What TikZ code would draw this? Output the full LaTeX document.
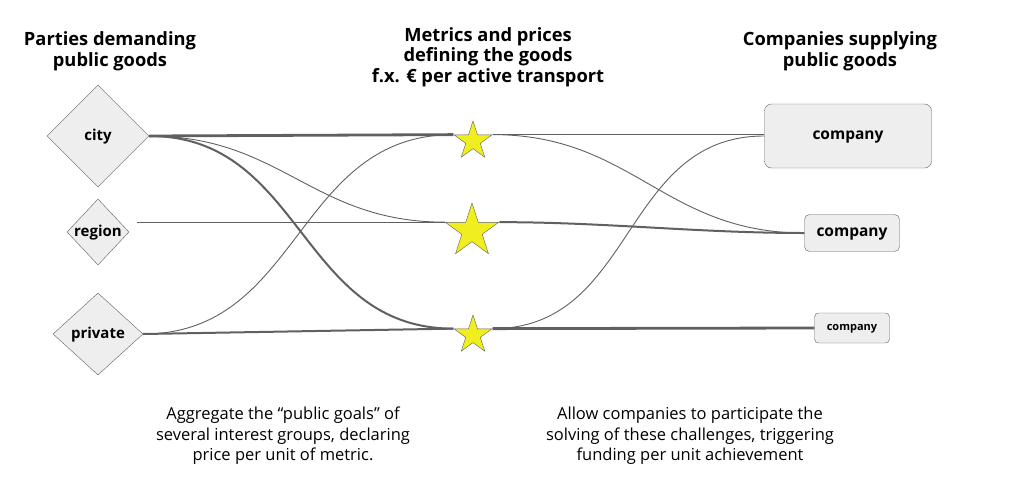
\documentclass[tikz,border=0pt]{standalone}
\usepackage{fontspec}
\usepackage{xcolor}
\usepackage{tikz}
\usetikzlibrary{shapes,arrows,positioning,calc}
\setmainfont{Open Sans}
\definecolor{boxgray}{RGB}{238,238,238}
\definecolor{linegray}{RGB}{96,96,96}
\definecolor{staryellow}{RGB}{240,238,30}

\begin{document}
\begin{tikzpicture}[
    x=1pt, y=-1pt,
    heading/.style={align=center, font=\bfseries\fontsize{18.3}{20.5}\selectfont},
    note/.style={align=center, font=\fontsize{16.5}{20.5}\selectfont},
    party/.style={diamond, draw=linegray, fill=boxgray, inner sep=0pt, text depth=1.5pt, font=\bfseries\fontsize{15}{18}\selectfont},
    metric/.style={star, star points=5, star point ratio=2.618, draw=linegray, fill=staryellow, inner sep=0pt},
    company/.style={rectangle, rounded corners=7pt, draw=linegray, fill=boxgray, text depth=1pt, font=\bfseries\fontsize{15.5}{18}\selectfont},
    link/.style={draw=linegray, line width=0.9pt},
    medlink/.style={draw=linegray, line width=2pt},
    boldlink/.style={draw=linegray, line width=2.8pt}
]
\useasboundingbox (0,0) rectangle (1011,485);

% headings
\node[heading] (hparties) at (110,51) {Parties demanding\\public goods};
\node[heading] (hmetrics) at (488,57) {Metrics and prices\\defining the goods\\f.x. € per active transport};
\node[heading] (hcompanies) at (840,51) {Companies supplying\\public goods};

% parties
\node[party, minimum width=102pt, minimum height=102pt] (city) at (98,136) {city};
\node[party, minimum width=62pt, minimum height=66pt] (region) at (98,232) {region};
\node[party, minimum width=90pt, minimum height=82pt] (private) at (98,334) {private};

% metrics
\node[metric, minimum size=40pt] (s1) at (473,141) {};
\node[metric, minimum size=56pt] (s2) at (472,231) {};
\node[metric, minimum size=40pt] (s3) at (473,335) {};

% companies
\node[company, minimum width=167pt, minimum height=64pt] (c1) at (848,136) {company};
\node[company, rounded corners=5pt, minimum width=95pt, minimum height=37pt] (c2) at (852,233) {company};
\node[company, rounded corners=4pt, minimum width=75pt, minimum height=30pt, font=\bfseries\fontsize{11}{13}\selectfont] (c3) at (852,328) {company};

% demand side
\draw[link] (city.east) to[out=0,in=180,looseness=1.1] (s2.outer point 2);
\draw[link] (private.east) to[out=0,in=180,looseness=1.1] (s1.outer point 2);
\draw[link] ([xshift=8pt]region.east |- s2.outer point 2) -- (s2.outer point 2);
\draw[medlink] (city.east) to[out=0,in=180,looseness=1.1] (s3.outer point 2);
\draw[medlink] (private.east) -- (s3.outer point 2);
\draw[boldlink] (city.east) -- (s1.outer point 2);

% supply side
\draw[link] (s1.outer point 5) -- (s1.outer point 5 -| c1.west);
\draw[link] (s1.outer point 5) to[out=0,in=180,looseness=1.1] (c2.west);
\draw[link] (s3.outer point 5) to[out=0,in=180,looseness=1.1] (c1.west);
\draw[medlink] (s2.outer point 5) to[out=0,in=180,looseness=0.9] (c2.west);
\draw[boldlink] (s3.outer point 5) -- (c3.west);

% notes
\node[note] (nleft) at (283,436) {Aggregate the “public goals” of\\several interest groups, declaring\\price per unit of metric.};
\node[note] (nright) at (690,436) {Allow companies to participate the\\solving of these challenges, triggering\\funding per unit achievement};
\end{tikzpicture}
\end{document}
